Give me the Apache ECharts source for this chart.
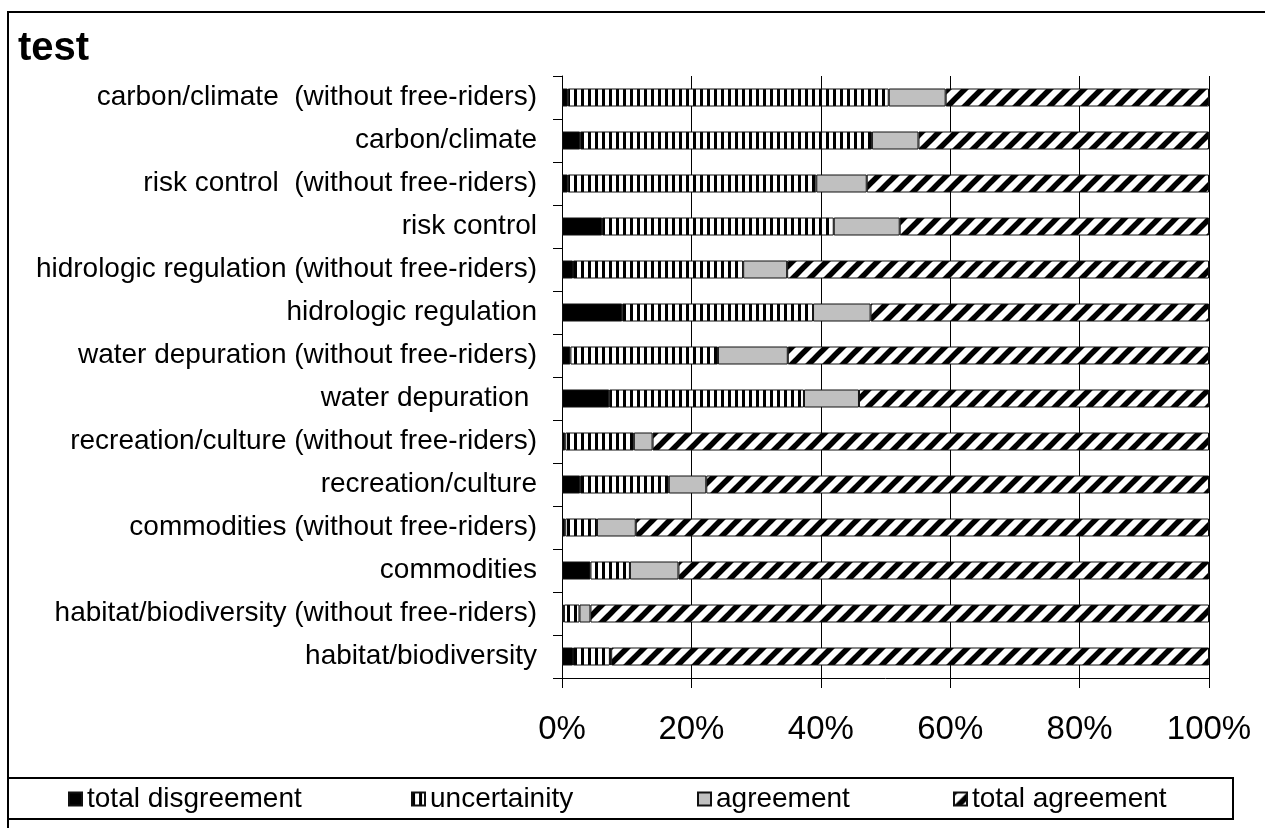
<!DOCTYPE html>
<html>
<head>
<meta charset="utf-8">
<script src="https://cdn.jsdelivr.net/npm/echarts@6/dist/echarts.min.js"></script>
<style>
html,body{margin:0;padding:0;background:#fff;}
#c{width:1265px;height:828px;}
</style>
</head>
<body>
<div id="c"></div>
<script>
// Categories, bottom to top
var categories = [
  'habitat/biodiversity',
  'habitat/biodiversity (without free-riders)',
  'commodities',
  'commodities (without free-riders)',
  'recreation/culture',
  'recreation/culture (without free-riders)',
  'water depuration ',
  'water depuration (without free-riders)',
  'hidrologic regulation',
  'hidrologic regulation (without free-riders)',
  'risk control',
  'risk control  (without free-riders)',
  'carbon/climate',
  'carbon/climate  (without free-riders)'
];
var seriesNames = ['total disgreement', 'uncertainity', 'agreement', 'total agreement'];
var totalDisagreement = [1.7, 0.3, 4.4, 0.5, 2.8, 0.5, 7.3, 1.3, 9.3, 1.7, 6.2, 0.9, 2.8, 0.9];
var uncertainty       = [5.7, 2.4, 6.1, 4.9, 13.7, 10.6, 30.1, 22.8, 29.5, 26.3, 35.8, 38.4, 45.1, 49.6];
var agreement         = [0.2, 1.7, 7.5, 6.0, 5.8, 2.9, 8.5, 10.8, 8.9, 6.8, 10.2, 7.8, 7.2, 8.8];
var totalAgreement    = [92.4, 95.6, 82.0, 88.6, 77.7, 86.0, 54.1, 65.1, 52.3, 65.2, 47.8, 52.9, 44.9, 40.7];
var xTicks = [0, 20, 40, 60, 80, 100];

function vertPattern() {
  var c = document.createElement('canvas');
  c.width = 7; c.height = 8;
  var g = c.getContext('2d');
  g.fillStyle = '#fff'; g.fillRect(0, 0, 7, 8);
  g.fillStyle = '#000'; g.fillRect(0, 0, 3, 8);
  return c;
}
function diagPattern() {
  var s = 17;
  var c = document.createElement('canvas');
  c.width = s; c.height = s;
  var g = c.getContext('2d');
  g.fillStyle = '#fff'; g.fillRect(0, 0, s, s);
  g.strokeStyle = '#000'; g.lineWidth = 5.5; g.lineCap = 'square';
  for (var k = -1; k <= 1; k++) {
    g.beginPath();
    g.moveTo(k * s, s);
    g.lineTo(k * s + s, 0);
    g.stroke();
  }
  return c;
}

var FONT = "'Liberation Sans', Arial, sans-serif";
var colors = ['#000000', {image: vertPattern(), repeat: 'repeat'}, '#c0c0c0', {image: diagPattern(), repeat: 'repeat'}];
var dataArr = [totalDisagreement, uncertainty, agreement, totalAgreement];
var legendLeft = [68, 411, 697, 953];

var chart = echarts.init(document.getElementById('c'), null, {renderer: 'canvas'});
var series = seriesNames.map(function (n, i) {
  return {
    name: n,
    type: 'bar',
    stack: 'all',
    barWidth: 18,
    data: dataArr[i],
    itemStyle: {color: colors[i], borderColor: '#111', borderWidth: 1},
    emphasis: {disabled: true}
  };
});
var legends = seriesNames.map(function (n, i) {
  return {
    data: [n],
    left: legendLeft[i],
    top: 785,
    padding: 0,
    itemWidth: 13,
    itemHeight: 13,
    itemGap: 6,
    icon: 'rect',
    textStyle: {fontSize: 28, color: '#000', fontFamily: FONT},
    selectedMode: false
  };
});

chart.setOption({
  animation: false,
  backgroundColor: '#fff',
  textStyle: {fontFamily: FONT},
  title: {
    text: 'test',
    left: 18,
    top: 29,
    padding: 0,
    textStyle: {fontSize: 40, fontWeight: 'bold', color: '#000', fontFamily: FONT}
  },
  legend: legends,
  grid: {left: 562, right: 56, top: 76, bottom: 150, containLabel: false},
  xAxis: {
    type: 'value',
    min: 0, max: 100, interval: 20,
    axisLine: {show: true, lineStyle: {color: '#000', width: 1}},
    axisTick: {show: true, length: 10, lineStyle: {color: '#000'}},
    splitLine: {show: true, lineStyle: {color: '#000', width: 1}},
    axisLabel: {
      fontSize: 33, color: '#000', fontFamily: FONT, margin: 35,
      formatter: function (v) { return v + '%'; }
    }
  },
  yAxis: {
    type: 'category',
    data: categories,
    axisLine: {show: true, lineStyle: {color: '#000', width: 1}},
    axisTick: {show: true, length: 9, lineStyle: {color: '#000'}},
    axisLabel: {fontSize: 28, color: '#000', fontFamily: FONT, margin: 25, interval: 0}
  },
  graphic: [
    {type: 'rect', shape: {x: 8, y: 12, width: 1400, height: 1000}, style: {fill: 'none', stroke: '#000', lineWidth: 2}, silent: true, z: 100},
    {type: 'rect', shape: {x: 8, y: 778, width: 1225, height: 41}, style: {fill: 'none', stroke: '#000', lineWidth: 2}, silent: true, z: 100}
  ],
  series: series
});
</script>
</body>
</html>
